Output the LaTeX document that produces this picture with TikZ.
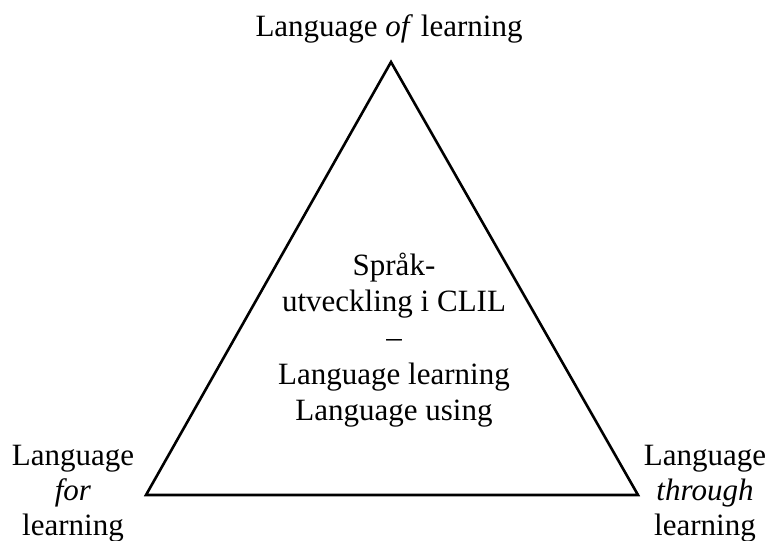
\documentclass[tikz,border=0pt]{standalone}
\usepackage{fontspec}
\setmainfont{Liberation Serif}
\begin{document}
\begin{tikzpicture}[x=1pt,y=-1pt,
  lbl/.style={anchor=base,inner sep=0pt,font=\fontsize{31}{36}\selectfont},
  tri/.style={draw=black,line width=2.6pt,line join=miter}]
\useasboundingbox (0,0) rectangle (772,541);
\coordinate (A) at (391,62);
\coordinate (B) at (146,495);
\coordinate (C) at (638,495);
\draw[tri] (A) -- (B) -- (C) -- cycle;
% top label
\node[lbl] (top) at (389,36) {Language \textit{of} learning};
% centre
\node[lbl] (c1) at (394,275) {Språk-};
\node[lbl] (c2) at (394,311) {utveckling i CLIL};
\node[lbl] (c3) at (394,347) {–};
\node[lbl] (c4) at (394,384) {Language learning};
\node[lbl] (c5) at (394,420) {Language using};
% left
\node[lbl] (l1) at (73,465) {Language};
\node[lbl] (l2) at (73,500) {\textit{for}};
\node[lbl] (l3) at (73,535) {learning};
% right
\node[lbl] (r1) at (705,465) {Language};
\node[lbl] (r2) at (705,500) {\textit{through}};
\node[lbl] (r3) at (705,535) {learning};
\end{tikzpicture}
\end{document}
